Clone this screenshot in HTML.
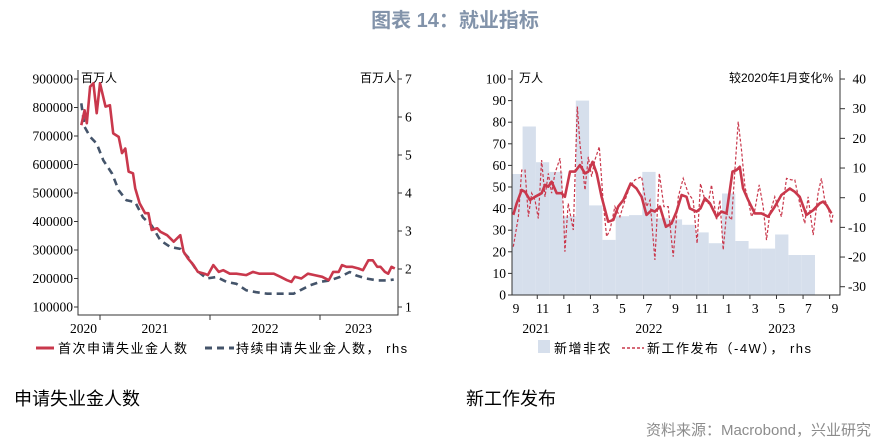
<!DOCTYPE html>
<html><head><meta charset="utf-8">
<style>
html,body{margin:0;padding:0;background:#fff;width:896px;height:445px;overflow:hidden;}
svg{display:block;}
</style></head>
<body>
<svg id="root" width="896" height="445" viewBox="0 0 896 445" xmlns="http://www.w3.org/2000/svg">
<text x="455" y="27" text-anchor="middle" font-family="'Liberation Sans','Noto Sans CJK SC',sans-serif" font-size="20" font-weight="bold" fill="#8293aa">图表 14：就业指标</text>
<g id="left"></g>
<g id="right"></g>
<text x="14" y="405" font-family="'Liberation Sans','Noto Sans CJK SC',sans-serif" font-size="18" fill="#000">申请失业金人数</text>
<text x="466" y="405" font-family="'Liberation Sans','Noto Sans CJK SC',sans-serif" font-size="18" fill="#000">新工作发布</text>
<text x="871" y="435" text-anchor="end" font-family="'Liberation Sans','Noto Sans CJK SC',sans-serif" font-size="15" fill="#8c8c8c">资料来源：Macrobond，兴业研究</text>
</svg>
<script>
// ---------- Left chart data ----------
const claimsT = [2020.83,2020.86,2020.88,2020.91,2020.94,2020.97,2021.00,2021.05,2021.09,2021.12,2021.17,2021.20,2021.23,2021.26,2021.30,2021.32,2021.36,2021.41,2021.44,2021.47,2021.52,2021.55,2021.61,2021.67,2021.73,2021.76,2021.80,2021.85,2021.89,2021.95,2021.98,2022.03,2022.08,2022.12,2022.18,2022.24,2022.33,2022.39,2022.45,2022.52,2022.58,2022.64,2022.70,2022.74,2022.77,2022.83,2022.89,2022.95,2023.02,2023.08,2023.12,2023.17,2023.20,2023.24,2023.29,2023.35,2023.39,2023.44,2023.48,2023.52,2023.55,2023.59,2023.62,2023.65,2023.68];
const initialClaims = [738000,790000,745000,873000,885000,780000,885000,803000,808000,709000,697000,640000,656000,575000,569000,517000,464000,429000,429000,370000,376000,364000,352000,329000,352000,294000,270000,247000,223000,217000,212000,247000,223000,229000,217000,217000,212000,223000,217000,217000,217000,206000,194000,188000,206000,200000,217000,212000,206000,194000,223000,223000,247000,241000,241000,235000,229000,264000,264000,241000,241000,223000,217000,241000,235000];
const contT = [2020.83,2020.86,2020.91,2020.97,2021.03,2021.11,2021.17,2021.24,2021.32,2021.39,2021.47,2021.55,2021.64,2021.73,2021.80,2021.88,2021.97,2022.06,2022.15,2022.24,2022.33,2022.42,2022.52,2022.61,2022.70,2022.76,2022.82,2022.91,2023.00,2023.09,2023.18,2023.27,2023.33,2023.42,2023.52,2023.61,2023.67];
const continuingClaims = [6.36,5.74,5.48,5.30,4.86,4.51,4.07,3.81,3.76,3.36,3.14,2.75,2.58,2.53,2.31,1.96,1.75,1.79,1.66,1.61,1.44,1.39,1.35,1.35,1.35,1.35,1.44,1.57,1.66,1.70,1.79,1.92,1.83,1.75,1.70,1.70,1.72];
const leftTicks = [100000,200000,300000,400000,500000,600000,700000,800000,900000];
const rightTicks = [1,2,3,4,5,6,7];
const yearLabels = ["2020","2021","2022","2023"];

// ---------- Right chart data ----------
const nfpMonths = [0,1,2,3,4,5,6,7,8,9,10,11,12,13,14,15,16,17,18,19,20,21,22];
const nfpValues = [56,78,61.5,57,36.5,90,41.5,25.5,36.5,37,57,35.5,35,32.5,29,24,47,25,21.5,21.5,28,18.5,18.5];
const postT = [-0.20,0.18,0.43,0.68,0.93,1.18,1.43,1.68,1.93,2.18,2.43,2.68,2.93,3.31,3.56,3.68,3.93,4.31,4.61,4.81,5.19,5.44,5.69,5.94,6.27,6.57,6.82,7.07,7.44,7.82,8.20,8.57,8.95,9.45,9.82,10.08,10.45,10.78,11.13,11.45,11.83,12.21,12.58,12.96,13.33,13.63,13.88,14.21,14.46,14.71,15.09,15.34,15.59,15.84,16.22,16.47,16.72,16.97,17.22,17.47,17.72,17.97,18.30,18.60,18.85,19.10,19.47,19.97,20.35,20.73,20.98,21.35,21.73,21.98,22.36,22.73,22.98,23.23,23.48,23.73,23.86];
const postWeekly = [-16.5,-6.4,9.3,9.3,-6.4,1.5,-0.8,-7,12.7,0.3,8.2,1.5,8.2,13.3,-3,-18.2,-1.9,-10.9,30.7,18.3,2.6,13.8,7.1,12.7,17.2,-1.9,-13.1,-10.9,-3,-6.4,-0.8,3.7,6,7.1,-3,-0.8,-21,8.2,-3,-3,-19.9,0.3,6.5,1.5,-0.8,-15.4,4.8,-0.8,-1.9,4.3,-7.5,-0.8,-17.6,-5.3,-7.5,9.3,25.6,16.1,3.7,-0.8,-6.4,-4.2,4.3,-3,-14.3,-5.3,0.3,-6.4,6.5,6,6,-1.9,-8.7,0.3,-12.6,1.5,6.5,-0.8,-3,-8.7,-5.3];
const smoothT = [-0.20,0.05,0.43,0.68,1.05,1.43,1.93,2.18,2.43,2.68,3.06,3.43,3.68,4.06,4.44,4.81,5.19,5.44,5.76,6.07,6.44,6.94,7.32,7.69,8.07,8.62,9.07,9.45,9.82,10.20,10.45,10.83,11.28,11.70,12.08,12.46,12.83,13.08,13.58,13.88,14.21,14.59,15.09,15.46,15.84,16.29,16.59,16.84,17.09,17.47,17.97,18.47,18.97,19.47,19.97,20.60,20.98,21.35,21.85,22.36,22.86,23.11,23.36,23.73];
const postSmooth = [-5.8,-1.9,2.6,2,-0.8,0.3,1.5,4.3,3.7,5.4,1.5,1.5,0.3,8.8,8.8,11,8.2,8.8,12.1,8.2,0.3,-8.1,-7.5,-3,-0.8,4.8,3.1,0.3,-5.8,-4.2,-4.7,-3,-9.8,-8.7,-4.7,0.9,0.3,-3.6,-4.7,-3.6,-0.2,-1.9,-6.4,-4.7,-5.3,8.8,9.3,10.4,3.1,-0.8,-5.3,-5.3,-6.4,-3,0.9,3.1,2,0.3,-5.8,-4.2,-1.9,-1.3,-2.5,-5.3];
const leftTicksR = [0,10,20,30,40,50,60,70,80,90,100];
const rightTicksR = [-30,-20,-10,0,10,20,30,40];
const monthLabels = ["9","11","1","3","5","7","9","11","1","3","5","7","9"];
const monthLabelIdx = [0,2,4,6,8,10,12,14,16,18,20,22,24];
const yearLabelsR = ["2021","2022","2023"];
const yearLabelIdx = [1.5,10,20];

const NS="http://www.w3.org/2000/svg";
const SERIF="'Liberation Serif','Noto Serif CJK SC',serif";
const SANS="'Liberation Sans','Noto Sans CJK SC',sans-serif";
function mk(parent,tag,attrs){const e=document.createElementNS(NS,tag);for(const k in attrs)e.setAttribute(k,attrs[k]);parent.appendChild(e);return e;}
function txt(parent,x,y,s,anchor,size,font){const t=mk(parent,'text',{x:x,y:y,'text-anchor':anchor,'font-size':size,'font-family':font,fill:'#000'});t.textContent=s;return t;}

// ---------- Left chart ----------
(function(){
const g=document.getElementById('left');
const X0=78,X1=398,YB=315;
const xs=t=>100+(t-2021)*110;
const yL=v=>79+(900000-v)/100000*28.5;
const yR=v=>79+(7-v)*38;
let p=mk(g,'path',{d:`M${X0} 70V${YB}H${X1}V70`,fill:'none',stroke:'#333','stroke-width':1});


leftTicks.forEach(v=>{const y=yL(v);mk(g,'line',{x1:X0-4,x2:X0,y1:y,y2:y,stroke:'#333'});
 const t=txt(g,X0-5,y+4.5,String(v),'end',13.5,SERIF);
 
 });
rightTicks.forEach(v=>{const y=yR(v);mk(g,'line',{x1:X1,x2:X1+4,y1:y,y2:y,stroke:'#333'});
 const t=txt(g,X1+7,y+4.5,String(v),'start',13.5,SERIF);
 
 });
[2021,2022,2023].forEach(yv=>{const x=xs(yv);mk(g,'line',{x1:x,x2:x,y1:YB,y2:YB+5,stroke:'#333'});});
const labX=[xs(2020.85),xs(2021.5),xs(2022.5),xs(2023.35)];
yearLabels.forEach((s,i)=>{const t=txt(g,labX[i],333,s,'middle',13.5,SERIF);
 
 });
let u=txt(g,81,82,'百万人','start',12,SANS);
u=txt(g,396,82,'百万人','end',12,SANS);
let d=continuingClaims.map((v,i)=>(i?'L':'M')+xs(contT[i]).toFixed(1)+' '+yR(v).toFixed(1)).join('');
p=mk(g,'path',{d:d,fill:'none',stroke:'#44546a','stroke-width':2.6,'stroke-dasharray':'7 5','stroke-linejoin':'round'});


d=initialClaims.map((v,i)=>(i?'L':'M')+xs(claimsT[i]).toFixed(1)+' '+yL(v).toFixed(1)).join('');
p=mk(g,'path',{d:d,fill:'none',stroke:'#c9384c','stroke-width':2.6,'stroke-linejoin':'round'});


let lg=mk(g,'g',{});


mk(lg,'line',{x1:36,x2:54,y1:348,y2:348,stroke:'#c9384c','stroke-width':3});
txt(lg,58,353,'首次申请失业金人数','start',13,SANS).setAttribute('letter-spacing','1.5');
mk(lg,'line',{x1:205,x2:234,y1:348,y2:348,stroke:'#44546a','stroke-width':3,'stroke-dasharray':'7 5'});
txt(lg,236,353,'持续申请失业金人数， rhs','start',13,SANS).setAttribute('letter-spacing','1.5');
})();

// ---------- Right chart ----------
(function(){
const g=document.getElementById('right');
const X0=512,X1=840,YB=295;
const xm=m=>516+m*13.29;
const yL=v=>295-v*2.16;
const yR=v=>197.7-v*2.967;
const cp=mk(g,'clipPath',{id:'rc'});mk(cp,'rect',{x:X0,y:60,width:X1-X0,height:YB-60});
const bars=mk(g,'g',{'clip-path':'url(#rc)'});
nfpValues.forEach((v,i)=>{const x=xm(nfpMonths[i])-6.65;
 const r=mk(bars,'rect',{x:x.toFixed(1),y:yL(v).toFixed(1),width:13.29,height:(YB-yL(v)).toFixed(1),fill:'#d6dfec'});
 
 });
let p=mk(g,'path',{d:`M${X0} 70V${YB}H${X1}V70`,fill:'none',stroke:'#333','stroke-width':1});


leftTicksR.forEach(v=>{const y=yL(v);mk(g,'line',{x1:X0-4,x2:X0,y1:y,y2:y,stroke:'#333'});
 const t=txt(g,X0-6,y+4.5,String(v),'end',13.5,SERIF);
 
 });
rightTicksR.forEach(v=>{const y=yR(v);mk(g,'line',{x1:X1,x2:X1+5,y1:y,y2:y,stroke:'#333'});
 const t=txt(g,X1+26,y+4.5,String(v),'end',13.5,SERIF);
 
 });
for(let m=1.6;m<24;m+=2){const x=xm(m);mk(g,'line',{x1:x,x2:x,y1:YB,y2:YB+4,stroke:'#333'});}
monthLabels.forEach((s,i)=>{const t=txt(g,xm(monthLabelIdx[i]),313,s,'middle',13.5,SERIF);
 
 });
yearLabelsR.forEach((s,i)=>{const t=txt(g,xm(yearLabelIdx[i]),333,s,'middle',13.5,SERIF);
 
 });
let u=txt(g,519,82,'万人','start',12,SANS);
u=txt(g,833,82,'较2020年1月变化%','end',12,SANS);
let d=postWeekly.map((v,i)=>(i?'L':'M')+xm(postT[i]).toFixed(1)+' '+yR(v).toFixed(1)).join('');
p=mk(g,'path',{d:d,fill:'none',stroke:'#c9384c','stroke-width':1.2,'stroke-dasharray':'3 2'});


d=postSmooth.map((v,i)=>(i?'L':'M')+xm(smoothT[i]).toFixed(1)+' '+yR(v).toFixed(1)).join('');
p=mk(g,'path',{d:d,fill:'none',stroke:'#c9384c','stroke-width':2.6,'stroke-linejoin':'round'});


let lg=mk(g,'g',{});


mk(lg,'rect',{x:538,y:340,width:12,height:13,fill:'#d6dfec'});
txt(lg,554,353,'新增非农','start',13,SANS).setAttribute('letter-spacing','1.5');
mk(lg,'line',{x1:622,x2:644,y1:348,y2:348,stroke:'#c9384c','stroke-width':1.5,'stroke-dasharray':'3 2'});
txt(lg,647,353,'新工作发布（-4W）， rhs','start',13,SANS).setAttribute('letter-spacing','1.5');
})();
</script>
</body></html>
